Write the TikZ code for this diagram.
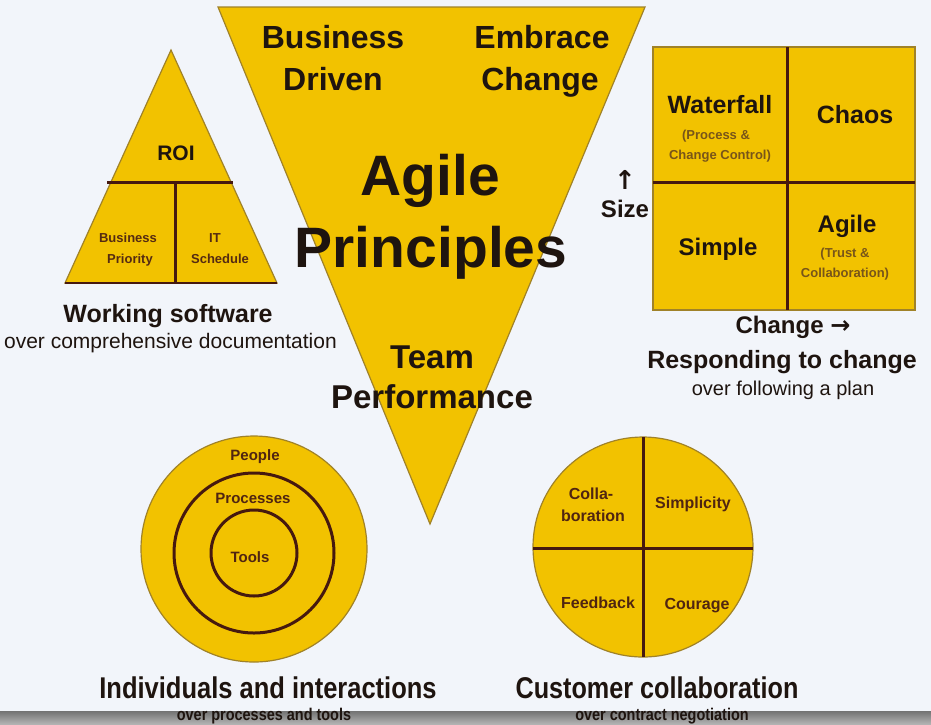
\documentclass[tikz,border=0pt]{standalone}
\usepackage{fontspec}
\setmainfont{Liberation Sans}
\newfontfamily\arrowfont{DejaVu Sans}
\usepackage{graphicx}
\definecolor{bgc}{RGB}{242,245,250}
\definecolor{ylw}{RGB}{242,194,0}
\definecolor{edgec}{RGB}{160,130,40}
\definecolor{ink}{RGB}{30,20,15}
\definecolor{brn}{RGB}{70,25,15}
\definecolor{mut}{RGB}{120,85,25}
\newcommand{\fsz}[1]{\fontsize{#1}{#1}\selectfont}
\tikzset{
  ylwshape/.style={fill=ylw, draw=edgec, line width=1.2},
  divline/.style={draw=brn, line width=3},
  lbl/.style={inner sep=0, anchor=base, text=ink, font=\bfseries\fsz{#1}},
  sublbl/.style={inner sep=0, anchor=base, text=mut, font=\bfseries\fsz{#1}},
  reglbl/.style={inner sep=0, anchor=base, text=ink, font=\fsz{#1}},
}
\begin{document}
\begin{tikzpicture}[x=1pt,y=-1pt]
\useasboundingbox (0,0) rectangle (931,724);
\clip (0,0) rectangle (931,724);
\fill[bgc] (0,0) rectangle (931,724);

% main inverted triangle
\draw[ylwshape] (218,7) -- (645,7) -- (430,524) -- cycle;

% left triangle
\draw[ylwshape] (171,50) -- (277,283) -- (65,283) -- cycle;
\draw[draw=brn, line width=2] (65,283) -- (277,283);
\draw[divline] (107,182) -- (233,182);
\draw[divline] (175,182) -- (175,283);

% top-right grid
\draw[ylwshape] (653,47) rectangle (915,310);
\draw[divline] (787,47) -- (787,310);
\draw[divline] (653,182) -- (915,182);

% left circles
\draw[ylwshape] (254,549) circle[radius=113];
\draw[divline] (254,553) circle[radius=80];
\draw[divline] (254,553) circle[radius=43];

% right circle
\draw[ylwshape] (643,547) circle[radius=110];
\draw[divline] (643,437) -- (643,657);
\draw[divline] (533,548) -- (753,548);

% main triangle texts
\node[lbl=32] (business) at (333,48) {Business};
\node[lbl=32] (driven) at (333,90) {Driven};
\node[lbl=32] (embrace) at (542,48) {Embrace};
\node[lbl=32] (change) at (540,90) {Change};
\node[lbl=57] (agile) at (430,195) {Agile};
\node[lbl=57] (principles) at (431,267) {Principles};
\node[lbl=33] (team) at (432,368) {Team};
\node[lbl=33] (performance) at (432,408) {Performance};

% left triangle texts
\node[lbl=21] (roi) at (176,160) {ROI};
\node[sublbl=13, text=brn!70!mut] (bp1) at (128,242) {Business};
\node[sublbl=13, text=brn!70!mut] (bp2) at (130,263) {Priority};
\node[sublbl=13, text=brn!70!mut] (it1) at (215,242) {IT};
\node[sublbl=13, text=brn!70!mut] (it2) at (220,263) {Schedule};
\node[lbl=25] (working) at (168,322) {Working software};
\node[reglbl=21, anchor=base east] (workingsub) at (337,348) {over comprehensive documentation};

% grid texts
\node[lbl=25] (waterfall) at (720,113) {Waterfall};
\node[sublbl=13] (wf1) at (716,139) {(Process \&};
\node[sublbl=13] (wf2) at (720,159) {Change Control)};
\node[lbl=25] (chaos) at (855,123) {Chaos};
\node[lbl=24] (simple) at (718,255) {Simple};
\node[lbl=24] (agilecell) at (847,232) {Agile};
\node[sublbl=13] (ag1) at (845,257) {(Trust \&};
\node[sublbl=13] (ag2) at (845,277) {Collaboration)};
\node[inner sep=0, anchor=base, text=ink, font=\arrowfont\bfseries\fsz{26}] (uparrow) at (625,189) {↑};
\node[lbl=24] (size) at (625,217) {Size};
\node[lbl=24] (changeaxis) at (793,333) {Change {\arrowfont\bfseries→}};
\node[lbl=25] (responding) at (782,368) {Responding to change};
\node[reglbl=20] (respsub) at (783,395) {over following a plan};

% left circle texts
\node[sublbl=15, text=brn!80!mut] (people) at (255,460) {People};
\node[sublbl=15, text=brn!80!mut] (processes) at (253,503) {Processes};
\node[sublbl=15, text=brn!80!mut] (tools) at (250,562) {Tools};

% right circle texts
\node[sublbl=16, text=brn!80!mut] (colla1) at (591,499) {Colla-};
\node[sublbl=16, text=brn!80!mut] (colla2) at (593,521) {boration};
\node[sublbl=16, text=brn!80!mut] (simplicity) at (693,508) {Simplicity};
\node[sublbl=16, text=brn!80!mut] (feedback) at (598,608) {Feedback};
\node[sublbl=16, text=brn!80!mut] (courage) at (697,609) {Courage};

% bottom captions
\node[lbl=30] (individuals) at (268,698) {\scalebox{0.85}[1]{Individuals and interactions}};
\node[lbl=30] (customer) at (657,698) {\scalebox{0.84}[1]{Customer collaboration}};

% bottom bar
\shade[top color=black!55, bottom color=black!30] (0,711) rectangle (931,724);
\node[lbl=17] (indsub) at (264,720) {\scalebox{0.85}[1]{over processes and tools}};
\node[lbl=17] (custsub) at (662,720) {\scalebox{0.85}[1]{over contract negotiation}};
\end{tikzpicture}
\end{document}
